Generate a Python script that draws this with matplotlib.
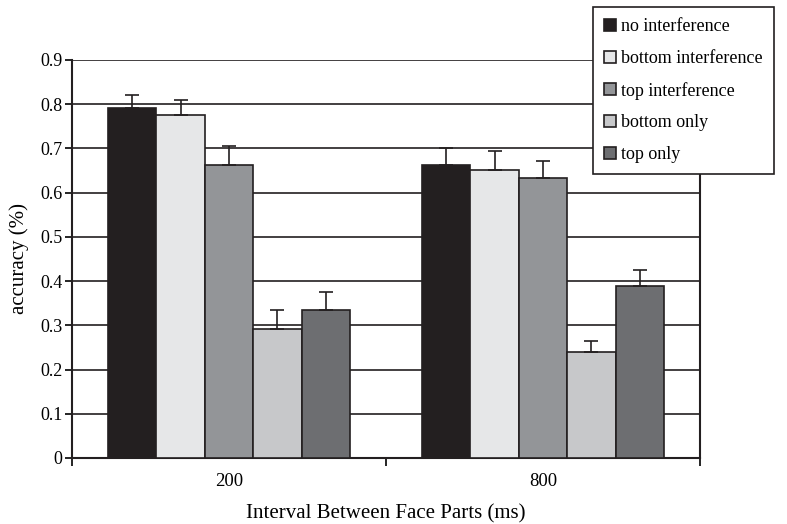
import numpy as np
import matplotlib.pyplot as plt
from matplotlib.patches import Patch

plt.rcParams['font.family'] = ['Liberation Serif', 'DejaVu Serif']

categories = ['200', '800']
series = ['no interference', 'bottom interference', 'top interference',
          'bottom only', 'top only']
means = {
    'no interference': [0.792, 0.663],
    'bottom interference': [0.776, 0.652],
    'top interference': [0.663, 0.633],
    'bottom only': [0.292, 0.240],
    'top only': [0.335, 0.389],
}
errs = {
    'no interference': [0.029, 0.037],
    'bottom interference': [0.034, 0.043],
    'top interference': [0.043, 0.039],
    'bottom only': [0.043, 0.025],
    'top only': [0.041, 0.036],
}
colors = ['#231f20', '#e6e7e8', '#939598', '#c7c8ca', '#6d6e71']
edge = '#231f20'

fig = plt.figure(figsize=(7.87, 5.24), dpi=100)
ax = fig.add_axes([72/787, 1-458/524, 628/787, 398/524])

x = np.arange(len(categories))
w = 0.154
for i, s in enumerate(series):
    pos = x - 2*w + i*w
    ax.bar(pos, means[s], w, color=colors[i], edgecolor=edge, linewidth=1.2, zorder=3)
    ax.errorbar(pos, means[s], yerr=[np.zeros(2), errs[s]], fmt='none',
                ecolor=edge, elinewidth=1.2, capsize=5, capthick=1.2, zorder=4)

ax.set_xlim(-0.5, 1.5)
ax.set_ylim(0, 0.9)
yt = np.round(np.arange(0, 0.91, 0.1), 1)
ax.set_yticks(yt)
ax.set_yticklabels(['0'] + ['%.1f' % v for v in yt[1:]])
ax.yaxis.grid(True, color='#231f20', linewidth=1.2, zorder=0)
ax.set_xticks(x)
ax.set_xticklabels(categories)
ax.set_xticks([-0.5, 0.5, 1.5], minor=True)
ax.tick_params(axis='x', which='major', length=0, pad=11, labelsize=13.5)
ax.tick_params(axis='x', which='minor', length=6, width=1.2, direction='out')
ax.tick_params(axis='y', length=5, width=1.2, direction='out', labelsize=13, pad=2)
ax.spines['top'].set_visible(False)
for sp in ['left', 'bottom', 'right']:
    ax.spines[sp].set_linewidth(1.5)
    ax.spines[sp].set_color('#231f20')

ax.set_ylabel('accuracy (%)', fontsize=15, labelpad=8)
ax.set_xlabel('Interval Between Face Parts (ms)', fontsize=15, labelpad=10)

handles = [Patch(facecolor=c, edgecolor=edge, linewidth=1.2) for c in colors]
leg = fig.legend(handles, series, loc='upper left',
                 bbox_to_anchor=(593/787, 1-7/524), fontsize=13,
                 frameon=True, fancybox=False, edgecolor='#231f20', framealpha=1,
                 handlelength=0.65, handleheight=0.65, handletextpad=0.3,
                 labelspacing=0.82, borderpad=0.62, borderaxespad=0)
leg.get_frame().set_linewidth(1.2)

fig.savefig('out.png', dpi=100)
